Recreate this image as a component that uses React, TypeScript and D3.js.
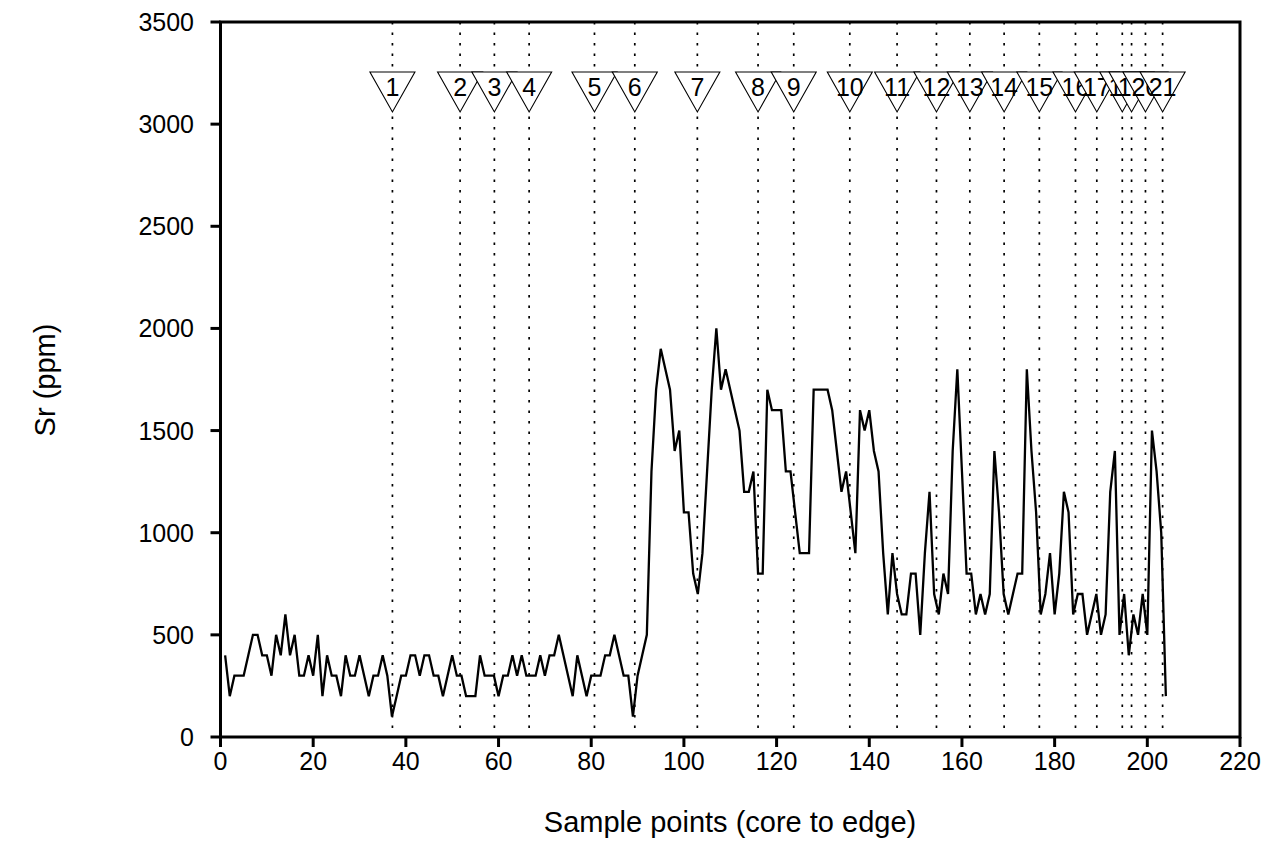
import React from 'react';
import * as d3 from 'd3';

// Sr profile, one value per sample point (1..204)
const srValues = [
  400, 200, 300, 300, 300, 400, 500, 500, 400, 400,
  300, 500, 400, 600, 400, 500, 300, 300, 400, 300,
  500, 200, 400, 300, 300, 200, 400, 300, 300, 400,
  300, 200, 300, 300, 400, 300, 100, 200, 300, 300,
  400, 400, 300, 400, 400, 300, 300, 200, 300, 400,
  300, 300, 200, 200, 200, 400, 300, 300, 300, 200,
  300, 300, 400, 300, 400, 300, 300, 300, 400, 300,
  400, 400, 500, 400, 300, 200, 400, 300, 200, 300,
  300, 300, 400, 400, 500, 400, 300, 300, 100, 300,
  400, 500, 1300, 1700, 1900, 1800, 1700, 1400, 1500, 1100,
  1100, 800, 700, 900, 1300, 1700, 2000, 1700, 1800, 1700,
  1600, 1500, 1200, 1200, 1300, 800, 800, 1700, 1600, 1600,
  1600, 1300, 1300, 1100, 900, 900, 900, 1700, 1700, 1700,
  1700, 1600, 1400, 1200, 1300, 1100, 900, 1600, 1500, 1600,
  1400, 1300, 900, 600, 900, 700, 600, 600, 800, 800,
  500, 900, 1200, 700, 600, 800, 700, 1400, 1800, 1300,
  800, 800, 600, 700, 600, 700, 1400, 1100, 700, 600,
  700, 800, 800, 1800, 1400, 1100, 600, 700, 900, 600,
  800, 1200, 1100, 600, 700, 700, 500, 600, 700, 500,
  600, 1200, 1400, 500, 700, 400, 600, 500, 700, 500,
  1500, 1300, 1000, 200,
];

// growth band markers (position along the transect)
const markerPos = [
  37.1, 51.7, 59.1, 66.6, 80.7, 89.4, 102.9, 116.0, 123.7, 135.8,
  146.0, 154.5, 161.7, 169.1, 176.7, 184.5, 189.1, 194.6, 196.6, 199.6, 203.3,
];
const markerLabels = markerPos.map((_, i) => String(i + 1));

const xTicks = d3.range(0, 221, 20);
const yTicks = d3.range(0, 3501, 500);

const W = 1277;
const H = 857;
const left = 220.5;
const right = 1240;
const top = 22;
const bottom = 737;
const font = '"Liberation Sans", Arial, sans-serif';

export default function App() {
  const x = d3.scaleLinear().domain([0, 220]).range([left, right]);
  const y = d3.scaleLinear().domain([0, 3500]).range([bottom, top]);

  const line = d3
    .line<number>()
    .x((_, i) => x(i + 1))
    .y(d => y(d));

  const triTop = 72;
  const triBottom = 112;
  const triHalf = 22.5;

  return (
    <svg
      width={W}
      height={H}
      style={{position: 'absolute', left: 0, top: 0, background: '#fff'}}
      fontFamily={font}>
      {/* dotted marker lines */}
      {markerPos.map((m, i) => (
        <line
          key={'d' + i}
          x1={x(m)}
          x2={x(m)}
          y1={top}
          y2={bottom}
          stroke="#000"
          strokeWidth={1.7}
          strokeDasharray="2.5,8"
        />
      ))}

      {/* data */}
      <path d={line(srValues) || ''} fill="none" stroke="#000" strokeWidth={2.3} strokeLinejoin="miter" />

      {/* markers, later ones drawn over earlier ones */}
      {markerPos.map((m, i) => {
        const cx = x(m);
        return (
          <g key={'m' + i}>
            <path
              d={`M${cx - triHalf},${triTop} L${cx + triHalf},${triTop} L${cx},${triBottom} Z`}
              fill="#fff"
              stroke="#000"
              strokeWidth={1.1}
            />
            <text x={cx} y={96} textAnchor="middle" fontSize={25}>
              {markerLabels[i]}
            </text>
          </g>
        );
      })}

      {/* frame */}
      <rect x={left} y={top} width={right - left} height={bottom - top} fill="none" stroke="#000" strokeWidth={3} />

      {/* x axis */}
      {xTicks.map(t => (
        <g key={'x' + t}>
          <line x1={x(t)} x2={x(t)} y1={bottom} y2={bottom + 10} stroke="#000" strokeWidth={3} />
          <text x={x(t)} y={770} textAnchor="middle" fontSize={25}>
            {t}
          </text>
        </g>
      ))}

      {/* y axis */}
      {yTicks.map(t => (
        <g key={'y' + t}>
          <line x1={left - 10} x2={left} y1={y(t)} y2={y(t)} stroke="#000" strokeWidth={3} />
          <text x={194} y={y(t) + 9} textAnchor="end" fontSize={25}>
            {t}
          </text>
        </g>
      ))}

      <text x={730} y={832} textAnchor="middle" fontSize={29}>
        Sample points (core to edge)
      </text>
      <text transform="translate(55,380) rotate(-90)" textAnchor="middle" fontSize={29}>
        Sr (ppm)
      </text>
    </svg>
  );
}
